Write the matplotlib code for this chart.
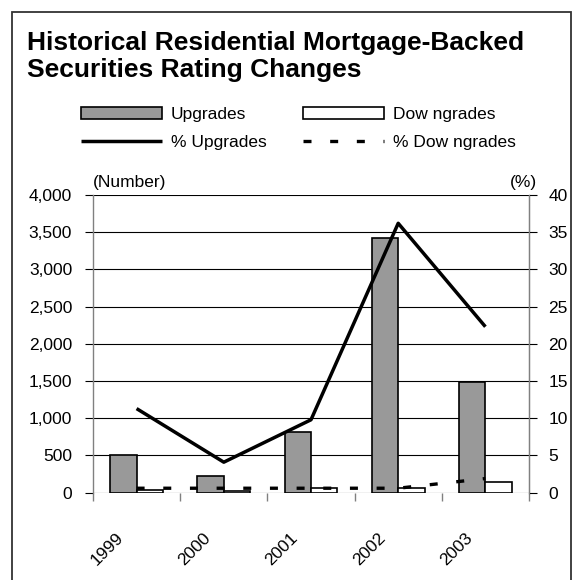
import numpy as np
import matplotlib
matplotlib.use("Agg")
import matplotlib.pyplot as plt
from matplotlib.patches import Rectangle
from matplotlib.transforms import ScaledTranslation
from matplotlib.ticker import FuncFormatter

years = ['1999', '2000', '2001', '2002', '2003']
upgrades = [510, 220, 810, 3420, 1490]
downgrades = [30, 25, 65, 65, 140]
pct_upgrades = [11.3, 4.1, 9.8, 36.2, 22.3]
pct_downgrades = [0.6, 0.6, 0.6, 0.6, 1.9]
left_ticks = [0, 500, 1000, 1500, 2000, 2500, 3000, 3500, 4000]
right_ticks = [0, 5, 10, 15, 20, 25, 30, 35, 40]

plt.rcParams['font.family'] = ['Liberation Sans', 'DejaVu Sans']

W, H = 576, 580
fig = plt.figure(figsize=(W / 100, H / 100), dpi=100)

# outer frame
fig.patches.append(Rectangle((12 / W, -0.05), (571 - 12) / W, 1.05 - 12 / H,
                             transform=fig.transFigure, fill=False,
                             edgecolor='#333333', lw=1.3))

ax = fig.add_axes([93 / W, 1 - 492.7 / H, (529 - 93) / W, (492.7 - 195) / H])
x = np.arange(len(years))
bw = 0.302
ax.bar(x - bw / 2, upgrades, bw, color='#999999', edgecolor='black', lw=1.2,
       label='Upgrades', zorder=3)
ax.bar(x + bw / 2, downgrades, bw, color='white', edgecolor='black', lw=1.2,
       label='Dow ngrades', zorder=3)
ax.set_xlim(-0.5, len(years) - 0.5)
ax.set_ylim(0, 4000)
ax.set_yticks(left_ticks)
ax.yaxis.set_major_formatter(FuncFormatter(lambda v, p: f'{v:,.0f}'))
ax.set_axisbelow(True)
ax.yaxis.grid(True, color='black', lw=0.8)
ax.tick_params(axis='y', length=6, width=0.8, color='black', pad=9,
               labelsize=12.5)

ax.set_xticks(np.arange(-0.5, len(years), 1))
ax.set_xticklabels([])
ax.tick_params(axis='x', which='major', length=6, width=1.0, color='#808080')
ax.set_xticks(x, minor=True)
ax.set_xticklabels(years, minor=True, rotation=45, ha='center', va='top')
ax.tick_params(axis='x', which='minor', length=0, pad=27, labelsize=12.5)
off = ScaledTranslation(-29 / 100, 0, fig.dpi_scale_trans)
for lab in ax.get_xticklabels(minor=True):
    lab.set_transform(lab.get_transform() + off)

for s in ['top', 'bottom']:
    ax.spines[s].set_visible(False)
for s in ['left', 'right']:
    ax.spines[s].set_color('#808080')
    ax.spines[s].set_linewidth(1.0)

ax2 = ax.twinx()
ax2.plot(x, pct_upgrades, color='black', lw=2.5, solid_capstyle='butt',
         label='% Upgrades', zorder=4)
ax2.plot(x, pct_downgrades, color='black', lw=2.4, dashes=(2.4, 5.6),
         dash_capstyle='butt', label='% Dow ngrades', zorder=4)
ax2.set_ylim(0, 40)
ax2.set_yticks(right_ticks)
ax2.tick_params(axis='y', length=6, width=0.8, color='black', pad=8,
                labelsize=12.5)
for s in ['top', 'bottom', 'left']:
    ax2.spines[s].set_visible(False)
ax2.spines['right'].set_color('#808080')

fig.text(93 / W, 1 - 187 / H, '(Number)', fontsize=12.5, ha='left',
         va='baseline')
fig.text(537 / W, 1 - 187 / H, '(%)', fontsize=12.5, ha='right',
         va='baseline')

fig.text(27 / W, 1 - 50 / H, 'Historical Residential Mortgage-Backed',
         fontsize=19, fontweight='bold', ha='left', va='baseline')
fig.text(27 / W, 1 - 77 / H, 'Securities Rating Changes',
         fontsize=19, fontweight='bold', ha='left', va='baseline')

h1, l1 = ax.get_legend_handles_labels()
h2, l2 = ax2.get_legend_handles_labels()
handles = [h1[0], h2[0], h1[1], h2[1]]
labels = [l1[0], l2[0], l1[1], l2[1]]
fig.legend(handles, labels, ncol=2, loc='upper left',
           bbox_to_anchor=(80.7 / W, 1 - 106.5 / H), frameon=False,
           fontsize=12.5, handlelength=4.7, handleheight=0.75,
           handletextpad=0.48, columnspacing=2.1, labelspacing=0.75,
           borderpad=0, borderaxespad=0)

fig.savefig('out.png', dpi=100)
